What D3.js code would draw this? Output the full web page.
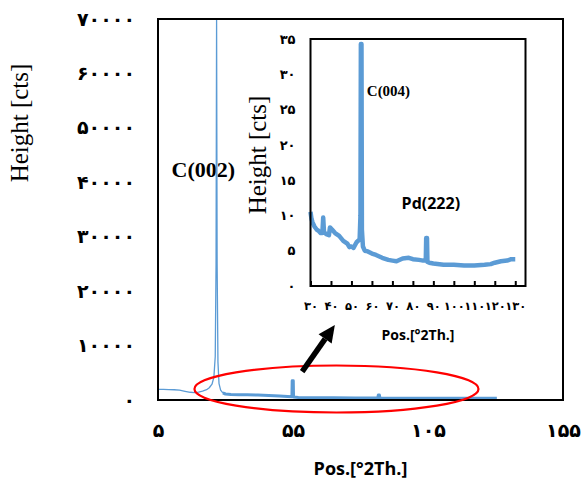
<!DOCTYPE html>
<html>
<head>
<meta charset="utf-8">
<script src="https://cdn.jsdelivr.net/npm/d3@7"></script>
<style>
  html, body { margin: 0; padding: 0; background: #fff; }
  svg { display: block; }
</style>
</head>
<body>
<svg id="chart" width="581" height="479"></svg>
<script>
// ---------------- DATA ----------------
// Main pattern: 2theta (deg) vs counts, low-angle part (thin trace)
const mainScanA = [
  [5,1950],[7,1950],[9,1900],[11,1880],[13,1800],[15,1600],[17,1420],[18.5,1350],
  [20,1450],[21.5,1650],[23,1900],[24,2250],[25,2900],[25.7,4200],[26.2,8000],
  [26.5,25000],[26.7,70000],[26.9,25000],[27.2,7000],[27.6,3000],[28.2,1800],[29,1300]
];
// Main pattern, higher-angle part (noisy, thick trace)
const mainScanB = [
  [29,1300],[30,1100],[32,1000],[35,980],[38,950],[42,900],[46,820],[50,720],
  [53,650],[54.6,600],[54.7,3550],[55.1,3550],[55.2,550],[57,480],[62,430],[70,400],
  [78,380],[86.4,360],[86.6,900],[87,900],[87.2,360],[95,330],[105,320],[115,320],
  [125,330],[130.5,340]
];
// Inset (zoomed) pattern
const insetScan = [
  [30,10.5],[30.5,9.5],[31,9.0],[32,8.4],[33,8.0],[34,7.8],[35,7.5],[35.8,7.5],
  [36.2,9.7],[36.6,7.6],[38,7.3],[39,7.2],[39.5,8.3],[40.5,8.0],[42,7.5],[44,7.1],
  [46,6.4],[48,6.0],[49,5.5],[50,5.6],[51,5.4],[52.5,6.2],[54,6.6],[54.4,10],
  [54.6,34.3],[54.9,34.3],[55.1,8],[55.6,5.6],[56.5,5.0],[58,4.9],[60,4.6],[62,4.4],
  [65,4.0],[68,3.7],[70,3.6],[72,3.5],[75,3.9],[78,4.0],[80,3.8],[83,3.7],[85,3.6],
  [86.3,3.6],[86.5,6.8],[86.9,6.8],[87.1,3.4],[88,3.3],[90,3.2],[95,3.0],[100,3.0],
  [105,2.9],[110,2.9],[115,3.0],[118,3.1],[120,3.3],[123,3.5],[126,3.6],[128,3.8],[130,3.8]
];
const mainXTicks = [5, 55, 105, 155];
const mainYTicks = [0, 10000, 20000, 30000, 40000, 50000, 60000, 70000];
const insetXTicks = [30, 40, 50, 60, 70, 80, 90, 100, 110, 120, 130];
const insetYTicks = [0, 5, 10, 15, 20, 25, 30, 35];
const peakLabels = ["C(002)", "C(004)", "Pd(222)"];
const axisTitles = { x: "Pos.[°2Th.]", y: "Height [cts]" };

// ---------------- HELPERS ----------------
const fa = v => String(v).replace(/\d/g, d => "۰۱۲۳۴۵۶۷۸۹"[+d]);
const svg = d3.select("#chart");
const blue = "#5b9bd5";
const digitFont = "'DejaVu Sans', sans-serif";
const serif = "'Liberation Serif', 'Times New Roman', serif";
const sans = "'Open Sans', 'Liberation Sans', sans-serif";

// ---------------- MAIN CHART ----------------
const mx = d3.scaleLinear().domain([5, 155]).range([158, 563]);
const my = d3.scaleLinear().domain([0, 70000]).range([400, 19]);

const yAx = svg.append("g").attr("transform", `translate(${mx(5)},0)`)
  .call(d3.axisLeft(my).tickValues(mainYTicks).tickSize(0).tickPadding(23).tickFormat(fa));
yAx.select(".domain").remove();
yAx.selectAll("text").attr("font-family", digitFont).attr("font-size", 19).attr("font-weight", "bold").attr("fill", "#000");

const xAx = svg.append("g").attr("transform", `translate(0,${my(0)})`)
  .call(d3.axisBottom(mx).tickValues(mainXTicks).tickSize(0).tickPadding(24).tickFormat(fa));
xAx.select(".domain").remove();
xAx.selectAll("text").attr("font-family", digitFont).attr("font-size", 19).attr("font-weight", "bold").attr("fill", "#000");

// axis titles
svg.append("text")
  .attr("transform", `translate(28,123) rotate(-90)`)
  .attr("text-anchor", "middle").attr("font-family", serif).attr("font-size", 25)
  .text(axisTitles.y);
svg.append("text")
  .attr("x", (mx(5) + mx(155)) / 2).attr("y", 475)
  .attr("text-anchor", "middle").attr("font-family", sans).attr("font-size", 18).attr("font-weight", "bold")
  .text(axisTitles.x);

// C(002) label (under the line)
svg.append("text")
  .attr("x", mx(10)).attr("y", my(41000))
  .attr("font-family", serif).attr("font-size", 22).attr("font-weight", "bold")
  .text(peakLabels[0]);

const mLine = d3.line().x(d => mx(d[0])).y(d => my(d[1]));
svg.append("path").datum(mainScanA).attr("d", mLine)
  .attr("fill", "none").attr("stroke", blue).attr("stroke-width", 1.3).attr("stroke-linejoin", "round");
svg.append("path").datum(mainScanB).attr("d", mLine)
  .attr("fill", "none").attr("stroke", blue).attr("stroke-width", 3).attr("stroke-linejoin", "round");

// main frame
svg.append("rect")
  .attr("x", mx(5)).attr("y", my(70000))
  .attr("width", mx(155) - mx(5)).attr("height", my(0) - my(70000))
  .attr("fill", "none").attr("stroke", "#000").attr("stroke-width", 2);

// red ellipse
svg.append("ellipse")
  .attr("cx", mx(71.1)).attr("cy", my(2020))
  .attr("rx", mx(71.1 + 52.6) - mx(71.1)).attr("ry", my(0) - my(4318))
  .attr("fill", "none").attr("stroke", "#ff0000").attr("stroke-width", 2.2);

// arrow
const a0 = [mx(58.4), my(5200)], a1 = [mx(70.5), my(13780)];
const ang = Math.atan2(a1[1] - a0[1], a1[0] - a0[0]);
const headLen = 17, headHalf = 8;
const base = [a1[0] - headLen * Math.cos(ang), a1[1] - headLen * Math.sin(ang)];
svg.append("line")
  .attr("x1", a0[0]).attr("y1", a0[1]).attr("x2", base[0]).attr("y2", base[1])
  .attr("stroke", "#000").attr("stroke-width", 5.5);
svg.append("polygon")
  .attr("points", [
    a1,
    [base[0] + headHalf * Math.sin(ang), base[1] - headHalf * Math.cos(ang)],
    [base[0] - headHalf * Math.sin(ang), base[1] + headHalf * Math.cos(ang)]
  ].map(p => p.join(",")).join(" "))
  .attr("fill", "#000");

// ---------------- INSET ----------------
const ix = d3.scaleLinear().domain([30, 135]).range([310.5, 525.5]);
const iy = d3.scaleLinear().domain([0, 35]).range([286, 39]);

svg.append("rect")
  .attr("x", ix(30)).attr("y", iy(35))
  .attr("width", ix(135) - ix(30)).attr("height", iy(0) - iy(35))
  .attr("fill", "#fff");

const iyAx = svg.append("g").attr("transform", `translate(${ix(30)},0)`)
  .call(d3.axisLeft(iy).tickValues(insetYTicks).tickSize(0).tickPadding(15).tickFormat(fa));
iyAx.select(".domain").remove();
iyAx.selectAll("text").attr("font-family", digitFont).attr("font-size", 13).attr("font-weight", "bold").attr("fill", "#000");

const ixAx = svg.append("g").attr("transform", `translate(0,${iy(0)})`)
  .call(d3.axisBottom(ix).tickValues(insetXTicks).tickSizeInner(-5).tickSizeOuter(0).tickPadding(16).tickFormat(fa));
ixAx.select(".domain").remove();
ixAx.selectAll("line").attr("stroke", "#000").attr("stroke-width", 2);
ixAx.selectAll("text").attr("font-family", digitFont).attr("font-size", 11.5).attr("font-weight", "bold").attr("fill", "#000");

svg.append("text")
  .attr("transform", `translate(266,155) rotate(-90)`)
  .attr("text-anchor", "middle").attr("font-family", serif).attr("font-size", 25)
  .text(axisTitles.y);
svg.append("text")
  .attr("x", (ix(30) + ix(135)) / 2).attr("y", 340)
  .attr("text-anchor", "middle").attr("font-family", sans).attr("font-size", 14).attr("font-weight", "bold")
  .text(axisTitles.x);

const iLine = d3.line().x(d => ix(d[0])).y(d => iy(d[1]));
svg.append("path").datum(insetScan).attr("d", iLine)
  .attr("fill", "none").attr("stroke", blue).attr("stroke-width", 4.5).attr("stroke-linejoin", "round");

svg.append("rect")
  .attr("x", ix(30)).attr("y", iy(35))
  .attr("width", ix(135) - ix(30)).attr("height", iy(0) - iy(35))
  .attr("fill", "none").attr("stroke", "#000").attr("stroke-width", 2);

svg.append("text")
  .attr("x", ix(57.5)).attr("y", iy(26.9))
  .attr("font-family", serif).attr("font-size", 15).attr("font-weight", "bold")
  .text(peakLabels[1]);
svg.append("text")
  .attr("x", ix(74.5)).attr("y", iy(10.9))
  .attr("font-family", sans).attr("font-size", 16).attr("font-weight", "bold")
  .text(peakLabels[2]);
</script>
</body>
</html>
